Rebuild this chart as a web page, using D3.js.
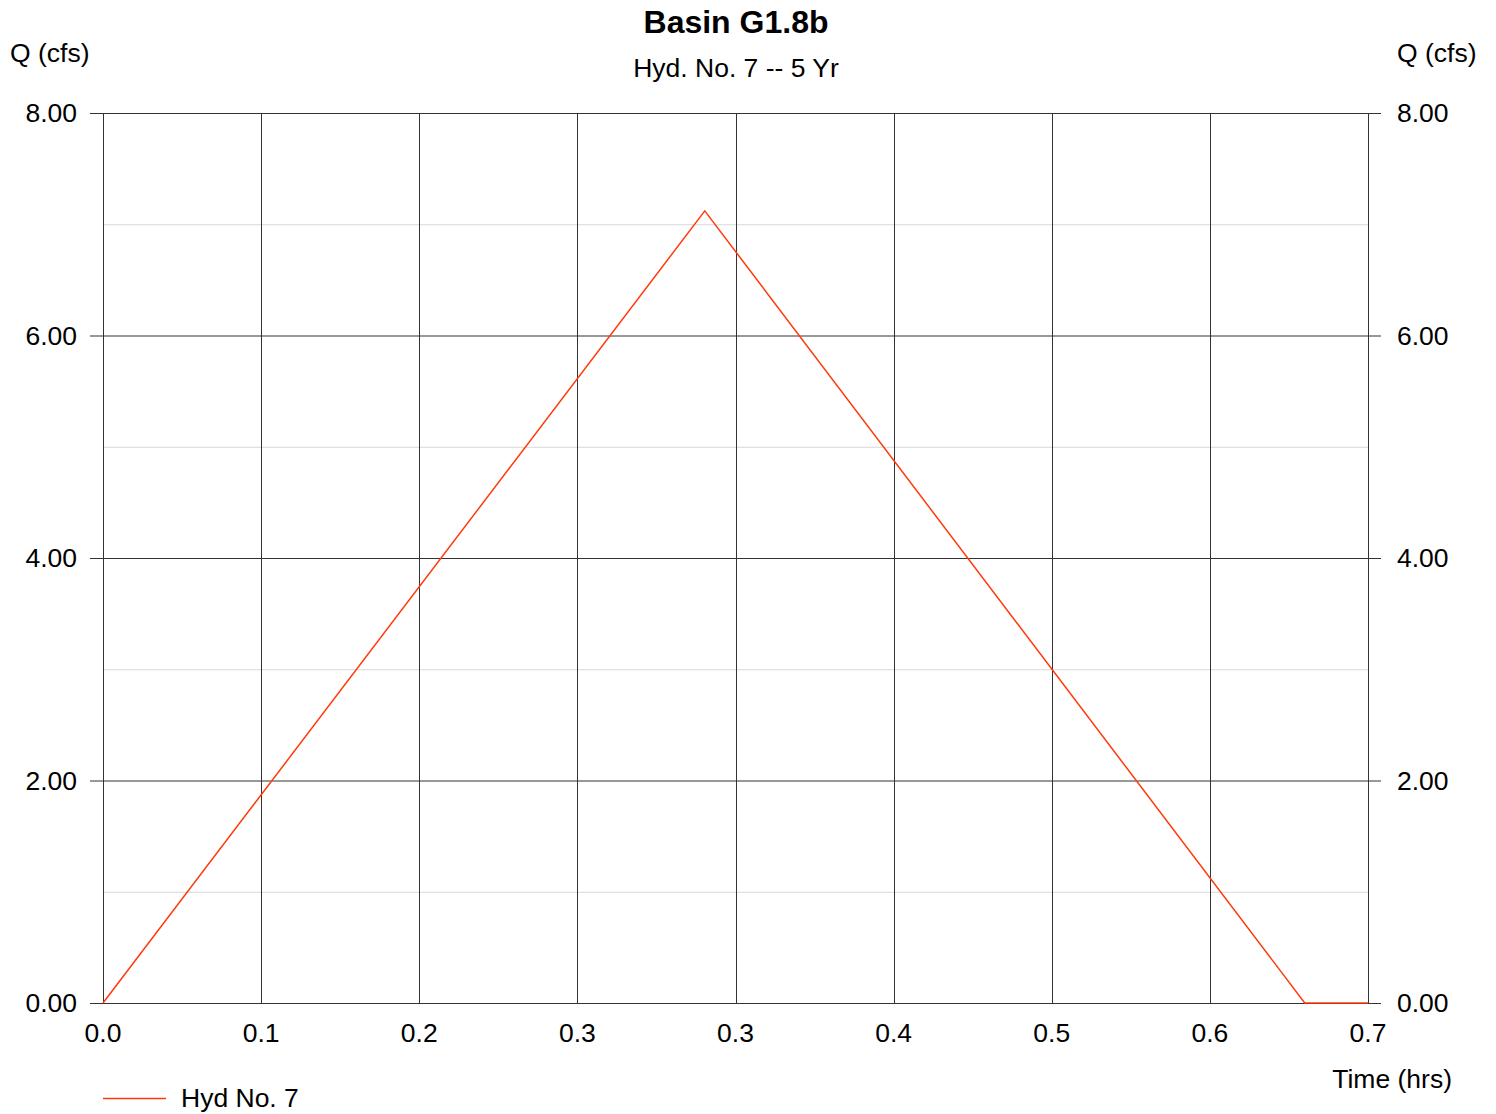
<!DOCTYPE html>
<html><head><meta charset="utf-8">
<script src="https://cdn.jsdelivr.net/npm/d3@7"></script>
<style>body{margin:0;background:#fff}svg{display:block;font-family:"Liberation Sans",Arial,sans-serif}</style>
</head><body>
<script>
const title = "Basin G1.8b";
const subtitle = "Hyd. No. 7 -- 5 Yr";
const seriesName = "Hyd No. 7";
const timeHrs = [0, 0.333, 0.665, 0.7];
const flowCfs = [0, 7.12, 0, 0];
const xTickValues = [0, 0.0875, 0.175, 0.2625, 0.35, 0.4375, 0.525, 0.6125, 0.7];
const xTickLabels = ["0.0", "0.1", "0.2", "0.3", "0.3", "0.4", "0.5", "0.6", "0.7"];
const yMajorTicks = [0, 2, 4, 6, 8];
const yMinorTicks = [1, 3, 5, 7];

const W = 1496, H = 1114;
const L = 103, R = 1368, T = 113, B = 1003;
const svg = d3.select("body").append("svg").attr("width", W).attr("height", H);
const x = d3.scaleLinear().domain([0, 0.7]).range([L, R]);
const y = d3.scaleLinear().domain([0, 8]).range([B, T]);

// minor grid
svg.append("g").selectAll("line").data(yMinorTicks).join("line")
  .attr("x1", L).attr("x2", R).attr("y1", d => y(d) + 0.5).attr("y2", d => y(d) + 0.5)
  .attr("stroke", "#d8d8d8").attr("stroke-width", 1);

// major horizontal grid + ticks
const gridColor = "#333";
svg.append("g").selectAll("line").data(yMajorTicks).join("line")
  .attr("x1", L - 13).attr("x2", R + 13).attr("y1", d => y(d) + 0.5).attr("y2", d => y(d) + 0.5)
  .attr("stroke", gridColor).attr("stroke-width", 1);
// vertical grid
svg.append("g").selectAll("line").data(xTickValues).join("line")
  .attr("x1", d => Math.round(x(d)) + 0.5).attr("x2", d => Math.round(x(d)) + 0.5)
  .attr("y1", T).attr("y2", B)
  .attr("stroke", gridColor).attr("stroke-width", 1);

const fs = 26.5;
// y labels left
svg.append("g").selectAll("text").data(yMajorTicks).join("text")
  .attr("x", 77).attr("y", d => y(d) + 9).attr("text-anchor", "end")
  .attr("font-size", fs).text(d => d.toFixed(2));
// y labels right
svg.append("g").selectAll("text").data(yMajorTicks).join("text")
  .attr("x", 1397).attr("y", d => y(d) + 9).attr("text-anchor", "start")
  .attr("font-size", fs).text(d => d.toFixed(2));
// x labels
svg.append("g").selectAll("text").data(xTickValues).join("text")
  .attr("x", d => x(d)).attr("y", 1042).attr("text-anchor", "middle")
  .attr("font-size", fs).text((d, i) => xTickLabels[i]);

// axis titles
svg.append("text").attr("x", 10).attr("y", 62).attr("font-size", fs).text("Q (cfs)");
svg.append("text").attr("x", 1397).attr("y", 62).attr("text-anchor", "start").attr("font-size", fs).text("Q (cfs)");
svg.append("text").attr("x", 1452).attr("y", 1088).attr("text-anchor", "end").attr("font-size", fs).text("Time (hrs)");

// titles
svg.append("text").attr("x", 736).attr("y", 33).attr("text-anchor", "middle")
  .attr("font-size", 32).attr("font-weight", "bold").text(title);
svg.append("text").attr("x", 736).attr("y", 77).attr("text-anchor", "middle")
  .attr("font-size", fs).text(subtitle);

// series
const pts = timeHrs.map((t, i) => [t, flowCfs[i]]);
svg.append("path").datum(pts)
  .attr("d", d3.line().x(d => x(d[0])).y(d => y(d[1])))
  .attr("fill", "none").attr("stroke", "#ff3a0a").attr("stroke-width", 1.5);

// legend
svg.append("line").attr("x1", 103).attr("x2", 166).attr("y1", 1098.5).attr("y2", 1098.5)
  .attr("stroke", "#ff3a0a").attr("stroke-width", 1.5);
svg.append("text").attr("x", 181).attr("y", 1107).attr("font-size", fs).text(seriesName);
</script>
</body></html>
